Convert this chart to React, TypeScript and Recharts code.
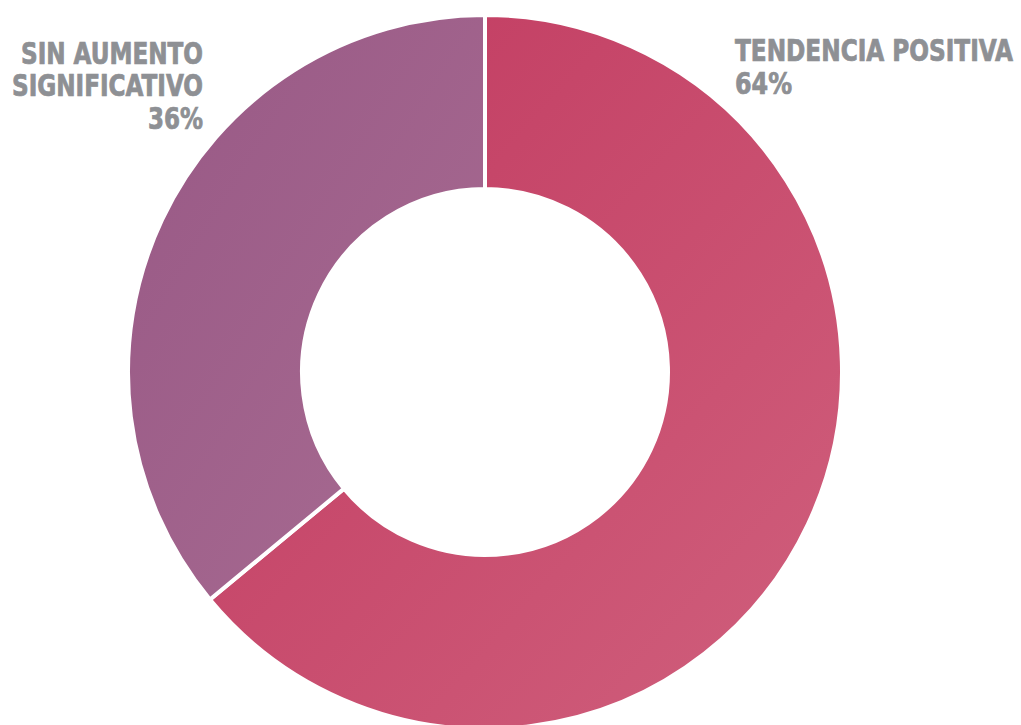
import { PieChart, Pie, Cell } from "recharts";

const categories = ["TENDENCIA POSITIVA", "SIN AUMENTO SIGNIFICATIVO"];
const values = [64, 36];
const labelLines = [["TENDENCIA POSITIVA"], ["SIN AUMENTO", "SIGNIFICATIVO"]];

const data = categories.map((name, i) => ({ name, value: values[i] }));

const gradients = [
  { id: "gradPos", from: "#C1395F", to: "#D0607D" },
  { id: "gradSin", from: "#985885", to: "#A86C92" },
];

const labelFont = {
  fontFamily: "'DejaVu Sans Condensed', 'Liberation Sans Narrow', Roboto, sans-serif",
  fontWeight: 700,
  fontSize: 24,
  fill: "#8E9094",
  stroke: "#8E9094",
  strokeWidth: 0.6,
};

// condensed-looking label: narrow font, stretched vertically
const Label = ({ x, y, w, anchor = "start", children }: any) => (
  <g transform={`translate(${x},${y}) scale(1,1.24)`}>
    <text x={0} y={0} textAnchor={anchor} textLength={w} lengthAdjust="spacingAndGlyphs" style={labelFont}>
      {children}
    </text>
  </g>
);

const App = () => (
  <div style={{ position: "absolute", left: 0, top: 0, width: 1021, height: 725, background: "#fff" }}>
    <PieChart width={1021} height={725} margin={{ top: 0, right: 0, bottom: 0, left: 0 }}>
      <defs>
        {gradients.map((g) => (
          <linearGradient key={g.id} id={g.id} x1="0" y1="0" x2="1" y2="1">
            <stop offset="0%" stopColor={g.from} />
            <stop offset="100%" stopColor={g.to} />
          </linearGradient>
        ))}
      </defs>
      <Pie
        data={data}
        dataKey="value"
        nameKey="name"
        cx={485}
        cy={372}
        innerRadius={183}
        outerRadius={357}
        startAngle={90}
        endAngle={-270}
        stroke="#fff"
        strokeWidth={4}
        isAnimationActive={false}
        label={false}
        labelLine={false}
      >
        {data.map((d, i) => (
          <Cell key={d.name} fill={`url(#${gradients[i].id})`} />
        ))}
      </Pie>
    </PieChart>
    <svg width={1021} height={725} style={{ position: "absolute", left: 0, top: 0, pointerEvents: "none" }}>
      {/* right label */}
      <Label x={735} y={61} w={278}>{labelLines[0][0]}</Label>
      <Label x={735} y={94} w={57}>{`${values[0]}%`}</Label>
      {/* left label */}
      <Label x={203} y={64} w={182} anchor="end">{labelLines[1][0]}</Label>
      <Label x={203} y={96} w={191} anchor="end">{labelLines[1][1]}</Label>
      <Label x={203} y={129} w={55} anchor="end">{`${values[1]}%`}</Label>
    </svg>
  </div>
);

export default App;
